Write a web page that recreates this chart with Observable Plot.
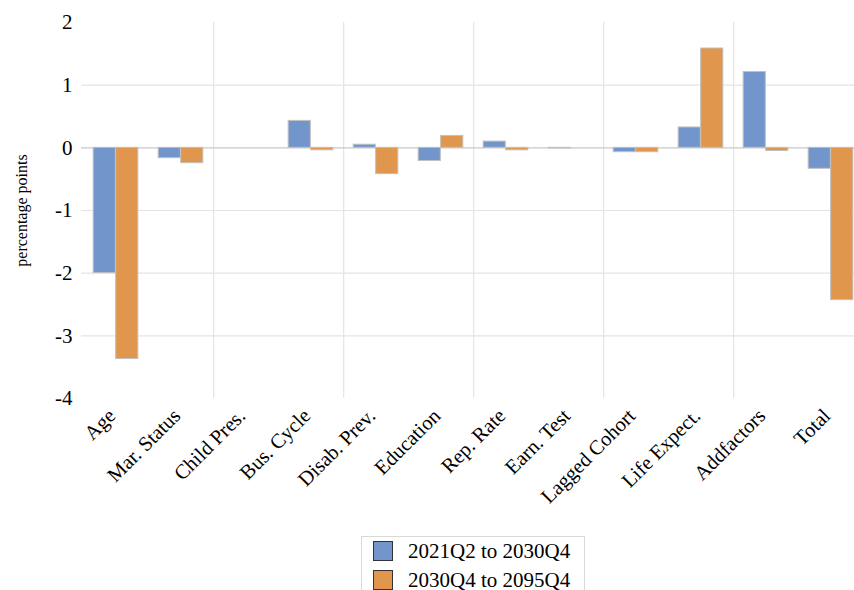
<!DOCTYPE html>
<html><head><meta charset="utf-8">
<script src="https://cdn.jsdelivr.net/npm/d3@7"></script>
<script src="https://cdn.jsdelivr.net/npm/@observablehq/plot@0.6"></script>
<style>
html,body{margin:0;padding:0;background:#fff;overflow:hidden;}
#chart svg{overflow:hidden;display:block;}
#chart svg, #chart svg text{font-family:"Liberation Serif",serif !important;}
.legend{position:absolute;left:361px;top:536px;width:222px;height:70px;border:1px solid #d9d9d9;font-family:"Liberation Serif",serif;font-size:21px;color:#000;box-sizing:content-box;}
.legend .item{position:relative;height:29px;line-height:29px;padding-left:46px;}
.legend .sw{position:absolute;left:11px;top:4px;width:18px;height:18px;border:1px solid #333;}
</style></head><body>
<div id="chart"></div>
<div class="legend" id="legend"></div>
<script>
const categories = ["Age","Mar. Status","Child Pres.","Bus. Cycle","Disab. Prev.","Education","Rep. Rate","Earn. Test","Lagged Cohort","Life Expect.","Addfactors","Total"];
const seriesNames = ["2021Q2 to 2030Q4","2030Q4 to 2095Q4"];
const earlyValues = [-2.0, -0.165, 0, 0.43, 0.05, -0.21, 0.10, -0.01, -0.07, 0.325, 1.21, -0.335];
const lateValues  = [-3.37, -0.245, 0, -0.04, -0.42, 0.19, -0.04, 0, -0.07, 1.585, -0.05, -2.43];
const yTicks = [-4, -3, -2, -1, 0, 1, 2];
const colors = ["#7296cc", "#e0964c"];

const data = [];
categories.forEach((c, i) => {
  data.push({category: c, series: seriesNames[0], value: earlyValues[i]});
  data.push({category: c, series: seriesNames[1], value: lateValues[i]});
});
const xRange = [81.3, 865.5];
const step = (xRange[1] - xRange[0]) / categories.length;
const barW = 22.5;
const gridCats = categories.filter((d, i) => i % 2 === 1 && i < categories.length - 1);

const plot = Plot.plot({
  width: 854, height: 530,
  marginLeft: 81, marginRight: 0, marginTop: 22, marginBottom: 132,
  style: {fontFamily: "'Liberation Serif', serif", background: "#fff", color: "#000"},
  x: {domain: categories, range: xRange, padding: 0},
  y: {domain: [-4, 2]},
  marks: [
    Plot.ruleY(yTicks.filter(d => d !== 0 && d !== -4 && d !== 2), {stroke: "#e4e4e4", strokeWidth: 1.2}),
    Plot.ruleX(gridCats, {x: d => d, dx: step / 2, y1: -4, y2: 2, stroke: "#e4e4e4", strokeWidth: 1.2}),
    Plot.ruleY([0], {stroke: "#c8c8c8", strokeWidth: 1.3}),
    Plot.barY(data.filter(d => d.series === seriesNames[0] && d.value !== 0), {
      x: "category", y: "value", fill: colors[0], stroke: "#c0c0c0", strokeWidth: 1,
      insetLeft: step / 2 - barW, insetRight: step / 2
    }),
    Plot.barY(data.filter(d => d.series === seriesNames[1] && d.value !== 0), {
      x: "category", y: "value", fill: colors[1], stroke: "#c0c0c0", strokeWidth: 1,
      insetLeft: step / 2, insetRight: step / 2 - barW
    }),
    Plot.axisY({ticks: yTicks, tickSize: 0, tickPadding: 9, tickFormat: d => String(d), fontSize: 21, label: null}),
    Plot.axisX({tickSize: 0, tickRotate: -45, tickPadding: 10, fontSize: 20.5, dx: -4, dy: 4, label: null}),
    Plot.text(["percentage points"], {frameAnchor: "left", textAnchor: "middle", dx: -60, rotate: -90, fontSize: 16, text: d => d})
  ]
});
document.getElementById("chart").appendChild(plot);

const legend = document.getElementById("legend");
seriesNames.forEach((name, i) => {
  const item = document.createElement("div");
  item.className = "item";
  const sw = document.createElement("span");
  sw.className = "sw";
  sw.style.background = colors[i];
  item.appendChild(sw);
  item.appendChild(document.createTextNode(name));
  legend.appendChild(item);
});
</script>
</body></html>
